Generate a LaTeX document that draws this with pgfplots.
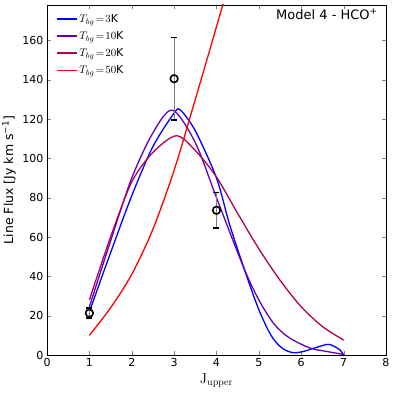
\documentclass[border=0pt]{standalone}
\usepackage[no-math]{fontspec}
\setmainfont{DejaVu Sans}
\usepackage{pgfplots}
\pgfplotsset{compat=1.18}
\definecolor{cthree}{RGB}{0,0,255}
\definecolor{cten}{RGB}{102,0,178}
\definecolor{ctwenty}{RGB}{178,0,90}
\definecolor{cfifty}{RGB}{255,0,0}
\begin{document}
\begin{tikzpicture}
\begin{axis}[
  scale only axis,
  width=339pt, height=350pt,
  xmin=0, xmax=8, ymin=0, ymax=178,
  xtick={0,1,...,8},
  ytick={0,20,...,160},
  tick align=inside,
  major tick length=4pt,
  minor tick num=0,
  /pgf/number format/assume math mode=true,
  tick label style={font=\fontsize{11}{13}\selectfont},
  xlabel={$\mathrm{J}_{\mathrm{upper}}$},
  ylabel={Line Flux [Jy km s\textsuperscript{−1}]},
  label style={font=\fontsize{12.5}{14}\selectfont},
  xlabel style={font=\fontsize{14}{16}\selectfont},
  legend style={draw=none, fill=none, at={(0.02,0.985)}, anchor=north west,
    font=\fontsize{11}{13}\selectfont, row sep=3.5pt, inner sep=2pt},
  legend cell align=left,
]
\addplot[color=cthree, smooth, line width=1.3pt,
  legend image code/.code={\draw[color=cthree, line width=1.5pt] (0pt,0pt) -- (20pt,0pt);}] coordinates {
(1,22) (1.5,52) (2,81) (2.5,106) (3,123) (3.15,124.5) (3.5,114) (4,90) (4.3,67) (4.65,44) (5,23) (5.3,9.5) (5.55,3.5) (5.8,1.2) (6.05,1.8) (6.35,3.8) (6.65,5.4) (6.9,2.8) (7,0)};
\addlegendentry{$T_{bg}\!=\!3$K}
\addplot[color=cten, smooth, line width=1.3pt,
  legend image code/.code={\draw[color=cten, line width=1.5pt] (0pt,0pt) -- (20pt,0pt);}] coordinates {
(1,24.5) (1.5,58) (2,90) (2.5,113) (2.96,124.5) (3.5,108) (4,80) (4.65,44) (5,28) (5.35,16) (5.7,9) (6.2,3.6) (6.6,1.8) (7,0.3)};
\addlegendentry{$T_{bg}\!=\!10$K}
\addplot[color=ctwenty, smooth, line width=1.3pt,
  legend image code/.code={\draw[color=ctwenty, line width=1.5pt] (0pt,0pt) -- (20pt,0pt);}] coordinates {
(1,28) (1.5,60) (2,88) (2.5,103) (3.05,111.5) (3.5,104) (4,90.5) (4.5,72) (5,54) (5.5,38) (6,24.5) (6.5,14.5) (7,7.6)};
\addlegendentry{$T_{bg}\!=\!20$K}
\addplot[color=cfifty, smooth, line width=1.3pt,
  legend image code/.code={\draw[color=cfifty, line width=1.5pt] (0pt,0pt) -- (20pt,0pt);}] coordinates {
(1,10) (1.5,24) (2,41) (2.5,64) (3,94) (3.5,130) (4,167) (4.5,205) (5,245)};
\addlegendentry{$T_{bg}\!=\!50$K}
\addplot[black, only marks, mark=o, mark size=3.8pt, line width=1.6pt,
  error bars/.cd, y dir=both, y explicit, error mark=|,
  error bar style={gray, line width=1.2pt},
  error mark options={black, line width=1.5pt, mark size=3pt}]
  coordinates {
  (1,21.3) +- (0,2.5)
  (3,140.5) +- (0,21)
  (4,73.6) +- (0,9)
};
\node[anchor=north east, inner sep=0pt, font=\fontsize{13}{15}\selectfont]
  at ([xshift=-8pt,yshift=-4pt]rel axis cs:1,1) {Model 4 - HCO\textsuperscript{+}};
\end{axis}
\pgfresetboundingbox
\path[use as bounding box] ([shift={(-47pt,-40pt)}]current axis.south west) rectangle ([shift={(8pt,5pt)}]current axis.north east);
\end{tikzpicture}
\end{document}
